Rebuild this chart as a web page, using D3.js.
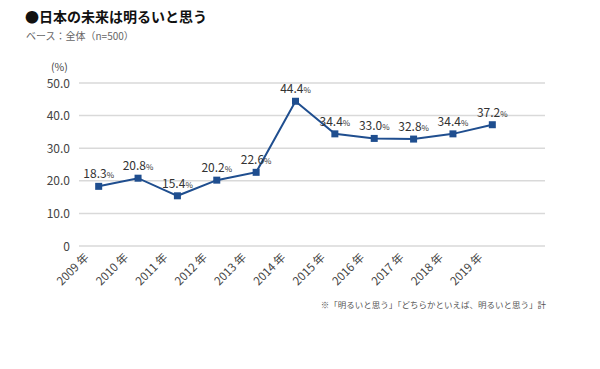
<!DOCTYPE html>
<html lang="ja">
<head>
<meta charset="UTF-8">
<title>日本の未来は明るいと思う</title>
<script src="https://cdn.jsdelivr.net/npm/d3@7/dist/d3.min.js"></script>
<style>
  body { margin: 0; background: #fff; }
  text { font-family: "Noto Sans CJK JP", "Noto Sans", sans-serif; }
</style>
</head>
<body>
<div id="box"></div>
<script>
const years = ["2009", "2010", "2011", "2012", "2013", "2014", "2015", "2016", "2017", "2018", "2019"];
const values = [18.3, 20.8, 15.4, 20.2, 22.6, 44.4, 34.4, 33.0, 32.8, 34.4, 37.2];
const yTicks = [0, 10, 20, 30, 40, 50];

const svg = d3.select("#box").append("svg").attr("width", 600).attr("height", 369);

// 見出し
svg.append("text").text("●日本の未来は明るいと思う")
  .attr("x", 25).attr("y", 22)
  .attr("font-size", 14).attr("font-weight", "bold").attr("fill", "#111");
svg.append("text").text("ベース：全体（n=500）")
  .attr("x", 26).attr("y", 40)
  .attr("font-size", 10).attr("fill", "#666");

const plotL = 79, plotR = 545, plotT = 83, plotB = 246;

const x = d3.scalePoint().domain(years).range([plotL, 512]).padding(0.5);
const y = d3.scaleLinear().domain([0, 50]).range([plotB, plotT]);

// 目盛線
svg.append("g").selectAll("line").data(yTicks).join("line")
  .attr("x1", plotL).attr("x2", plotR)
  .attr("y1", d => y(d)).attr("y2", d => y(d))
  .attr("stroke", "#d9d9d9").attr("stroke-width", 1.5);

svg.append("g").selectAll("text").data(yTicks).join("text")
  .attr("x", 70).attr("y", d => y(d) + 4.5)
  .attr("text-anchor", "end").attr("font-size", 12).attr("fill", "#444")
  .text(d => d === 0 ? "0" : d.toFixed(1));

svg.append("text").text("(%)")
  .attr("x", 51).attr("y", 71).attr("font-size", 10.5).attr("fill", "#444");

// 横軸ラベル
svg.append("g").selectAll("text").data(years).join("text")
  .attr("transform", d => `translate(${x(d) - 9},${plotB + 12}) rotate(-45)`)
  .attr("text-anchor", "end").attr("font-size", 11.5).attr("fill", "#444")
  .text(d => d + " 年");

// 折れ線
const pts = years.map((yr, i) => ({ yr, v: values[i] }));
svg.append("path").datum(pts)
  .attr("fill", "none").attr("stroke", "#1f4e8f").attr("stroke-width", 2)
  .attr("d", d3.line().x(d => x(d.yr)).y(d => y(d.v)));

svg.append("g").selectAll("rect").data(pts).join("rect")
  .attr("x", d => x(d.yr) - 3.5).attr("y", d => y(d.v) - 3.5)
  .attr("width", 7).attr("height", 7).attr("fill", "#1f4e8f");

// 数値ラベル
const lab = svg.append("g").selectAll("text").data(pts).join("text")
  .attr("x", d => x(d.yr)).attr("y", d => y(d.v) - 8)
  .attr("text-anchor", "middle").attr("font-size", 12).attr("fill", "#333");
lab.append("tspan").text(d => d.v.toFixed(1));
lab.append("tspan").attr("font-size", 8).text("%");

// 注記
svg.append("text").text("※「明るいと思う」「どちらかといえば、明るいと思う」計")
  .attr("x", 546).attr("y", 308).attr("text-anchor", "end")
  .attr("font-size", 8.5).attr("fill", "#555");
</script>
</body>
</html>
